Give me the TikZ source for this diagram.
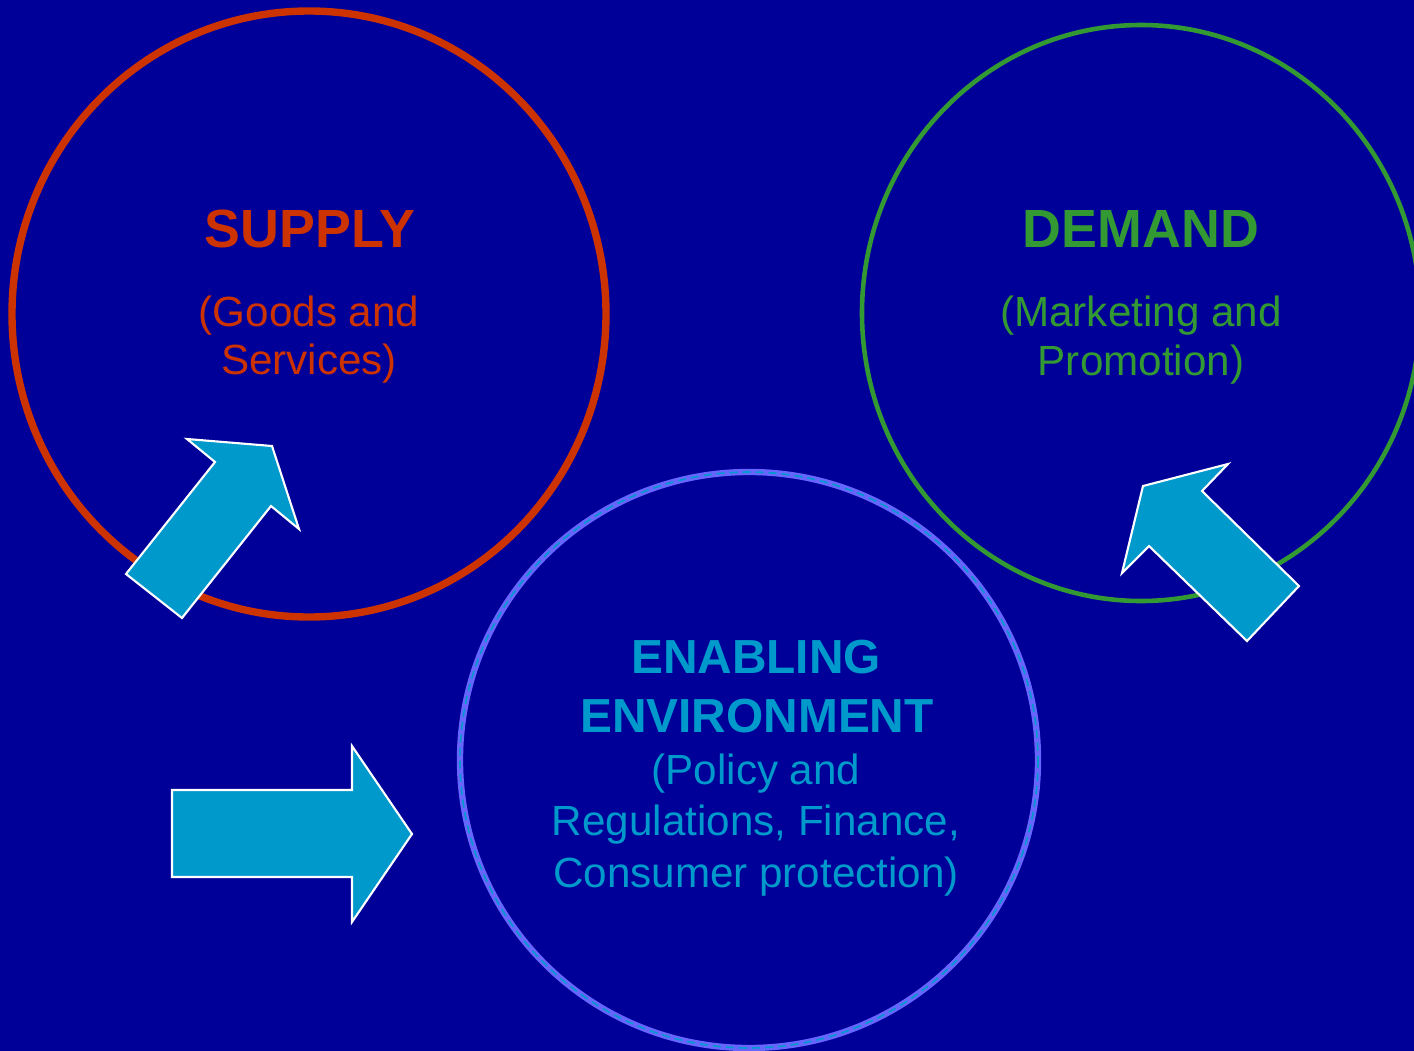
\documentclass[tikz,border=0pt]{standalone}
\usepackage{fontspec}
\setmainfont{Liberation Sans}
\definecolor{bgblue}{HTML}{000099}
\definecolor{supred}{HTML}{CC3300}
\definecolor{demgreen}{HTML}{339933}
\definecolor{envcyan}{HTML}{0099CC}
\definecolor{envring}{HTML}{6666FF}
\tikzset{
  title/.style={anchor=base, inner sep=0pt, font=\bfseries\fontsize{15.3}{18}\selectfont},
  envtitle/.style={anchor=base, inner sep=0pt, font=\bfseries\fontsize{13.6}{16}\selectfont, text=envcyan},
  sub/.style={anchor=base, inner sep=0pt, font=\fontsize{12}{14}\selectfont},
  blockarrow/.style={fill=envcyan, draw=white, line width=0.6pt, line join=miter},
}
\begin{document}
\begin{tikzpicture}[x=0.01cm, y=-0.01cm]
\useasboundingbox (0,0) rectangle (1414,1051);
\fill[bgblue] (0,0) rectangle (1414,1051);
\begin{scope}
\clip (0,0) rectangle (1414,1051);
% the three rings
\draw[supred, line width=2.1pt] (309,314) ellipse [x radius=297, y radius=303];
\draw[demgreen, line width=1.3pt] (1141,313) ellipse [x radius=279, y radius=288];
\draw[envring, line width=1.8pt] (749,760) ellipse [x radius=289, y radius=288];
\draw[envcyan, line width=0.45pt, dash pattern=on 2.3pt off 1.4pt] (749,760) ellipse [x radius=289, y radius=288];
\end{scope}

% supply
\node[title, text=supred] (supplyt) at (310,247) {SUPPLY};
\node[sub, text=supred] (supply1) at (309,326) {(Goods and};
\node[sub, text=supred] (supply2) at (309,374) {Services)};

% demand
\node[title, text=demgreen] (demandt) at (1141,247) {DEMAND};
\node[sub, text=demgreen] (demand1) at (1141,326) {(Marketing and};
\node[sub, text=demgreen] (demand2) at (1141,375) {Promotion)};

% enabling environment
\node[envtitle] (env1) at (756,673) {ENABLING};
\node[envtitle] (env2) at (757,732) {ENVIRONMENT};
\node[sub, text=envcyan] (env3) at (756,784) {(Policy and};
\node[sub, text=envcyan] (env4) at (756,835) {Regulations, Finance,};
\node[sub, text=envcyan] (env5) at (756,887) {Consumer protection)};

% block arrows
\draw[blockarrow] (126,574) -- (215,462) -- (187,439) -- (272,446) -- (299,529) -- (271,506) -- (182,618) -- cycle;
\draw[blockarrow] (1299,586) -- (1202,491) -- (1228,464) -- (1143,486) -- (1122,573) -- (1149,546) -- (1247,641) -- cycle;
\draw[blockarrow] (172,790) -- (352,790) -- (352,746) -- (412,834) -- (352,922) -- (352,877) -- (172,877) -- cycle;
\end{tikzpicture}
\end{document}
